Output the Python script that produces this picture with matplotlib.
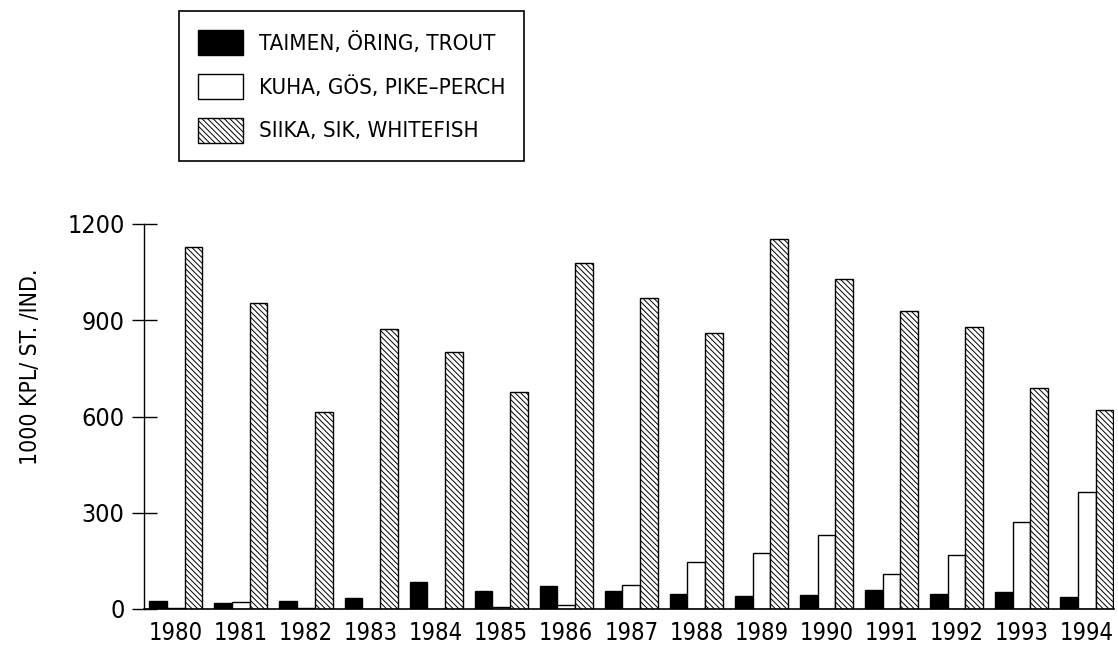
import numpy as np
import matplotlib
matplotlib.use("Agg")
import matplotlib.pyplot as plt
from matplotlib import font_manager
from matplotlib.patches import Patch

# fish catch by species, 1980-1994
years = ["1980", "1981", "1982", "1983", "1984", "1985", "1986", "1987",
         "1988", "1989", "1990", "1991", "1992", "1993", "1994"]
trout = [26, 19, 24, 33, 83, 55, 73, 55, 46, 39, 44, 58, 48, 53, 37]
pikeperch = [2, 22, 2, 0, 0, 6, 12, 74, 147, 176, 231, 109, 167, 272, 366]
whitefish = [1129, 953, 615, 873, 802, 676, 1078, 969, 860, 1153, 1028, 929, 880, 688, 621]

labels = ["TAIMEN, ÖRING, TROUT", "KUHA, GÖS, PIKE\u2013PERCH", "SIIKA, SIK, WHITEFISH"]
yticks = [0, 300, 600, 900, 1200]

avail = {f.name for f in font_manager.fontManager.ttflist}
if "Liberation Sans Narrow" in avail:
    plt.rcParams["font.family"] = ["Liberation Sans Narrow", "DejaVu Sans"]
else:
    plt.rcParams["font.family"] = ["DejaVu Sans"]
    plt.rcParams["font.stretch"] = "condensed"
plt.rcParams["hatch.linewidth"] = 0.7

fig = plt.figure(figsize=(11.18, 6.54), dpi=100)
ax = fig.add_axes([144 / 1118, 1 - 609 / 654, (1114 - 144) / 1118, (609 - 224) / 654])

x = np.arange(len(years))
w = 0.272
hatch = "\\" * 6
ax.bar(x - w, trout, w, color="black", edgecolor="black", linewidth=1.0)
ax.bar(x, pikeperch, w, color="white", edgecolor="black", linewidth=1.0)
ax.bar(x + w, whitefish, w, color="white", edgecolor="black", linewidth=1.0, hatch=hatch)

ax.set_xlim(-0.49, 14.42)
ax.set_ylim(0, 1200)
ax.set_xticks(x)
ax.set_xticklabels(years, fontsize=17)
ax.set_yticks(yticks)
ax.set_yticklabels([str(v) for v in yticks], fontsize=18)
ax.tick_params(axis="x", length=0, pad=9)
ax.tick_params(axis="y", direction="inout", length=18, width=1.0, pad=5)

for s in ["top", "right"]:
    ax.spines[s].set_visible(False)
ax.spines["left"].set_linewidth(1.0)
ax.spines["bottom"].set_linewidth(1.2)

ax.set_ylabel("1000 KPL/ ST. /IND.", fontsize=16.5)
ax.yaxis.set_label_coords(-0.105, 0.63)

handles = [Patch(facecolor="black", edgecolor="black"),
           Patch(facecolor="white", edgecolor="black"),
           Patch(facecolor="white", edgecolor="black", hatch=hatch)]
leg = fig.legend(handles, labels, loc="upper left",
                 bbox_to_anchor=(179 / 1118, 1 - 11 / 654), borderaxespad=0,
                 fontsize=16, handlelength=2.05, handleheight=1.35,
                 labelspacing=0.85, handletextpad=0.7, borderpad=0.85,
                 fancybox=False, framealpha=1, edgecolor="black")
leg.get_frame().set_linewidth(1.2)

fig.savefig("out.png", dpi=100)
